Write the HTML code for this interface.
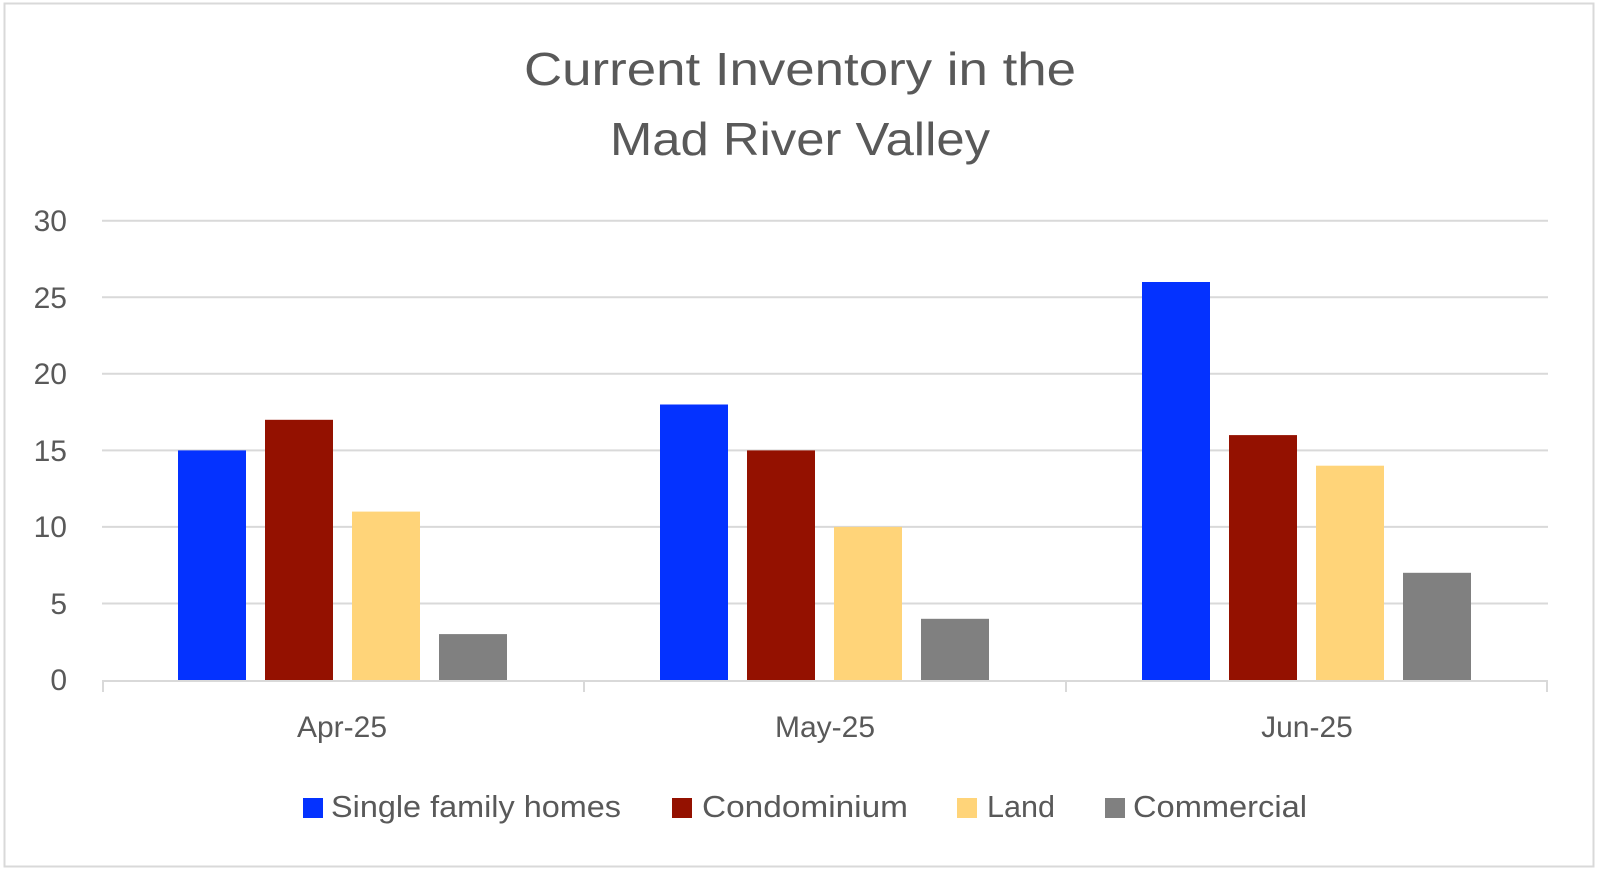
<!DOCTYPE html>
<html><head><meta charset="utf-8"><style>
html,body{margin:0;padding:0;background:#fff;}
svg{display:block;font-family:"Liberation Sans",sans-serif;}
</style></head><body>
<svg width="1600" height="872" viewBox="0 0 1600 872">
<rect x="0" y="0" width="1600" height="872" fill="#fff"/>
<rect x="4.5" y="3.5" width="1589" height="863" fill="none" stroke="#d9d9d9" stroke-width="2"/>
<g fill="#595959" text-anchor="middle" font-size="46">
<text x="800" y="85" textLength="552" lengthAdjust="spacingAndGlyphs">Current Inventory in the</text>
<text x="800" y="155" textLength="380" lengthAdjust="spacingAndGlyphs">Mad River Valley</text>
</g>
<g stroke="#d9d9d9" stroke-width="2">
<line x1="102" y1="220.7" x2="1548" y2="220.7"/>
<line x1="102" y1="297.3" x2="1548" y2="297.3"/>
<line x1="102" y1="373.8" x2="1548" y2="373.8"/>
<line x1="102" y1="450.4" x2="1548" y2="450.4"/>
<line x1="102" y1="526.9" x2="1548" y2="526.9"/>
<line x1="102" y1="603.5" x2="1548" y2="603.5"/>
</g>
<g fill="#595959" font-size="30" text-anchor="end">
<text x="67" y="231">30</text><text x="67" y="308">25</text><text x="67" y="384">20</text>
<text x="67" y="461">15</text><text x="67" y="537">10</text><text x="67" y="614">5</text><text x="67" y="690">0</text>
</g>
<g>
<rect x="178" y="450.4" width="68" height="229.6" fill="#0432ff"/>
<rect x="265" y="419.8" width="68" height="260.2" fill="#941100"/>
<rect x="352" y="511.6" width="68" height="168.4" fill="#ffd479"/>
<rect x="439" y="634.1" width="68" height="45.9" fill="#808080"/>
<rect x="660" y="404.5" width="68" height="275.5" fill="#0432ff"/>
<rect x="747" y="450.4" width="68" height="229.6" fill="#941100"/>
<rect x="834" y="526.9" width="68" height="153.1" fill="#ffd479"/>
<rect x="921" y="618.8" width="68" height="61.2" fill="#808080"/>
<rect x="1142" y="282" width="68" height="398" fill="#0432ff"/>
<rect x="1229" y="435.1" width="68" height="244.9" fill="#941100"/>
<rect x="1316" y="465.7" width="68" height="214.3" fill="#ffd479"/>
<rect x="1403" y="572.8" width="68" height="107.2" fill="#808080"/>
</g>
<g stroke="#d9d9d9" stroke-width="2">
<line x1="102" y1="681" x2="1548" y2="681"/>
<line x1="103" y1="681" x2="103" y2="692"/>
<line x1="584" y1="681" x2="584" y2="692"/>
<line x1="1066" y1="681" x2="1066" y2="692"/>
<line x1="1547" y1="681" x2="1547" y2="692"/>
</g>
<g fill="#595959" font-size="30" text-anchor="middle">
<text x="342" y="737">Apr-25</text><text x="825" y="737">May-25</text><text x="1307" y="737">Jun-25</text>
</g>
<g font-size="31" fill="#595959">
<rect x="303" y="798" width="20" height="20" fill="#0432ff"/>
<text x="331" y="817" textLength="290" lengthAdjust="spacingAndGlyphs">Single family homes</text>
<rect x="672" y="798" width="20" height="20" fill="#941100"/>
<text x="702" y="817" textLength="206" lengthAdjust="spacingAndGlyphs">Condominium</text>
<rect x="957" y="798" width="20" height="20" fill="#ffd479"/>
<text x="987" y="817" textLength="68" lengthAdjust="spacingAndGlyphs">Land</text>
<rect x="1105" y="798" width="20" height="20" fill="#808080"/>
<text x="1133" y="817" textLength="174" lengthAdjust="spacingAndGlyphs">Commercial</text>
</g>
</svg>
</body></html>
